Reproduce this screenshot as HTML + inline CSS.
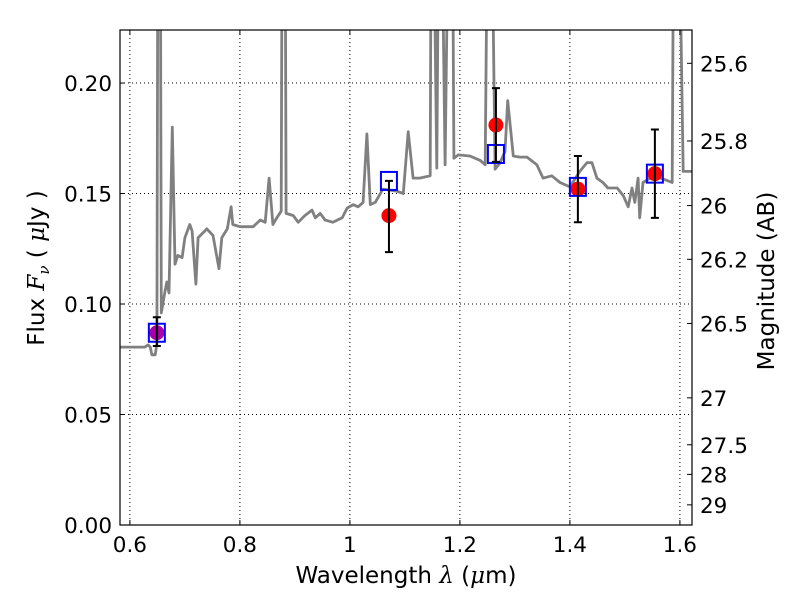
<!DOCTYPE html>
<html><head><meta charset="utf-8"><style>
body{margin:0;background:#fff;}
svg text{font-family:"DejaVu Sans","Liberation Sans",sans-serif;fill:#000;}
</style></head><body>
<svg id="chart" width="800" height="600" viewBox="0 0 800 600" xmlns="http://www.w3.org/2000/svg">
<g id="grid"></g>
<g id="spec"></g>
<g id="phot"></g>
<rect x="120" y="30" width="572" height="495" fill="none" stroke="#000" stroke-width="1.2"/>
<g id="axes"></g>
<text x="406" y="583" font-size="23" text-anchor="middle">Wavelength  <tspan font-style="italic" font-family="DejaVu Serif">λ</tspan> (<tspan font-style="italic" font-family="DejaVu Serif">μ</tspan>m)</text>
<text transform="translate(44,268) rotate(-90)" font-size="23" text-anchor="middle">Flux  <tspan font-style="italic" font-family="DejaVu Serif">F<tspan font-size="15" dy="5">ν</tspan></tspan><tspan dy="-5">  (  </tspan><tspan font-style="italic" font-family="DejaVu Serif">μ</tspan>Jy )</text>
<text transform="translate(774,281) rotate(-90)" font-size="23" text-anchor="middle">Magnitude (AB)</text>
</svg>
<script>
const specWave=[0.582,0.627,0.633,0.637,0.640,0.646,0.649,0.651,0.655,0.657,0.664,0.667,0.671,0.677,0.682,0.687,0.695,0.700,0.709,0.713,0.720,0.724,0.740,0.751,0.762,0.767,0.777,0.784,0.787,0.800,0.824,0.837,0.846,0.853,0.860,0.867,0.875,0.877,0.882,0.884,0.897,0.906,0.918,0.931,0.937,0.946,0.955,0.969,0.986,0.995,1.006,1.015,1.024,1.031,1.037,1.046,1.060,1.086,1.097,1.106,1.115,1.127,1.146,1.148,1.151,1.158,1.162,1.166,1.173,1.180,1.186,1.189,1.197,1.218,1.237,1.246,1.251,1.257,1.264,1.273,1.282,1.287,1.297,1.309,1.322,1.340,1.351,1.367,1.382,1.400,1.418,1.431,1.440,1.449,1.460,1.469,1.486,1.497,1.506,1.513,1.518,1.524,1.527,1.533,1.546,1.564,1.576,1.586,1.589,1.597,1.606,1.622];
const specFlux=[0.0805,0.0805,0.0815,0.0805,0.077,0.077,0.082,0.30,0.30,0.096,0.106,0.110,0.105,0.180,0.118,0.122,0.121,0.130,0.136,0.133,0.109,0.130,0.134,0.131,0.116,0.130,0.134,0.144,0.136,0.135,0.135,0.138,0.137,0.157,0.136,0.139,0.142,0.30,0.30,0.141,0.140,0.137,0.140,0.1425,0.139,0.141,0.138,0.137,0.139,0.1434,0.145,0.144,0.146,0.177,0.145,0.146,0.152,0.151,0.150,0.178,0.157,0.157,0.158,0.30,0.30,0.1615,0.30,0.30,0.163,0.30,0.30,0.166,0.1675,0.167,0.165,0.163,0.30,0.30,0.161,0.164,0.169,0.192,0.167,0.1665,0.1665,0.163,0.157,0.158,0.155,0.153,0.160,0.164,0.164,0.157,0.155,0.1525,0.1525,0.149,0.144,0.1525,0.146,0.157,0.139,0.155,0.157,0.157,0.156,0.155,0.30,0.30,0.160,0.160];
const photWave=[0.649,1.071,1.2655,1.4145,1.5545];
const photFlux=[0.087,0.140,0.181,0.152,0.159];
const photErrLo=[0.081,0.1235,0.1643,0.137,0.139];
const photErrHi=[0.094,0.1557,0.1977,0.167,0.179];
const modelFlux=[0.087,0.1557,0.1679,0.153,0.159];
const xTicks=[0.6,0.8,1.0,1.2,1.4,1.6];
const xTickLabels=["0.6","0.8","1","1.2","1.4","1.6"];
const yTicks=[0,0.05,0.10,0.15,0.20];
const yTickLabels=["0.00","0.05","0.10","0.15","0.20"];
const magTicks=[25.6,25.8,26,26.2,26.5,27,27.5,28,29];
const magTickLabels=["25.6","25.8","26","26.2","26.5","27","27.5","28","29"];

const X0=120,X1=692,Y0=525,Y1=30,XMIN=0.582,XMAX=1.622,YMIN=0,YMAX=0.224;
const sx=v=>X0+(v-XMIN)/(XMAX-XMIN)*(X1-X0);
const sy=v=>Y0-(v-YMIN)/(YMAX-YMIN)*(Y0-Y1);
const NS="http://www.w3.org/2000/svg";
function mk(tag,attrs,parent){const e=document.createElementNS(NS,tag);for(const k in attrs)e.setAttribute(k,attrs[k]);parent.appendChild(e);return e;}
const grid=document.getElementById('grid'),axes=document.getElementById('axes'),spec=document.getElementById('spec'),phot=document.getElementById('phot');

xTicks.forEach((t,i)=>{const x=sx(t);
 let g=mk('line',{x1:x,x2:x,y1:Y1,y2:Y0,stroke:'#000','stroke-width':1,'stroke-dasharray':'1,3'},grid);
 
 let tk=mk('path',{d:`M${x},${Y0}v-5M${x},${Y1}v5`,stroke:'#000'},axes);
 
 let tx=mk('text',{x:x,y:552,'font-size':21.5,'text-anchor':'middle'},axes);tx.textContent=xTickLabels[i];
 });
yTicks.forEach((t,i)=>{const y=sy(t);
 let g=mk('line',{x1:X0,x2:X1,y1:y,y2:y,stroke:'#000','stroke-width':1,'stroke-dasharray':'1,3'},grid);
 
 let tk=mk('path',{d:`M${X0},${y}h5`,stroke:'#000'},axes);
 
 let tx=mk('text',{x:112,y:y+8,'font-size':21.5,'text-anchor':'end'},axes);tx.textContent=yTickLabels[i];
 });
magTicks.forEach((m,i)=>{const f=Math.pow(10,(23.9-m)/2.5);const y=sy(f);
 let tk=mk('path',{d:`M${X1},${y}h-5`,stroke:'#000'},axes);
 
 let tx=mk('text',{x:700,y:y+8,'font-size':21.5},axes);tx.textContent=magTickLabels[i];
 });

const cp=mk('clipPath',{id:'clip'},document.getElementById('chart'));
mk('rect',{x:X0,y:Y1,width:X1-X0,height:Y0-Y1},cp);
spec.setAttribute('clip-path','url(#clip)');
let d=specWave.map((w,i)=>(i?'L':'M')+sx(w).toFixed(1)+','+sy(specFlux[i]).toFixed(1)).join('');
let p=mk('path',{d:d,fill:'none',stroke:'#808080','stroke-width':2.8,'stroke-linejoin':'round'},spec);


photWave.forEach((w,i)=>{const x=sx(w);
 let c=mk('circle',{cx:x,cy:sy(photFlux[i]),r:7.5,fill:i===0?'#aa00aa':'#ff0000'},phot);
 
 let r=mk('rect',{x:x-8,y:sy(modelFlux[i])-9,width:16,height:18,fill:'none',stroke:'#0000ff','stroke-width':2},phot);
 
 const a=sy(photErrHi[i]),b=sy(photErrLo[i]);
 let e=mk('path',{d:`M${x},${a}V${b}M${x-4},${a}h8M${x-4},${b}h8`,stroke:'#000','stroke-width':2},phot);
 });
</script>
</body></html>
